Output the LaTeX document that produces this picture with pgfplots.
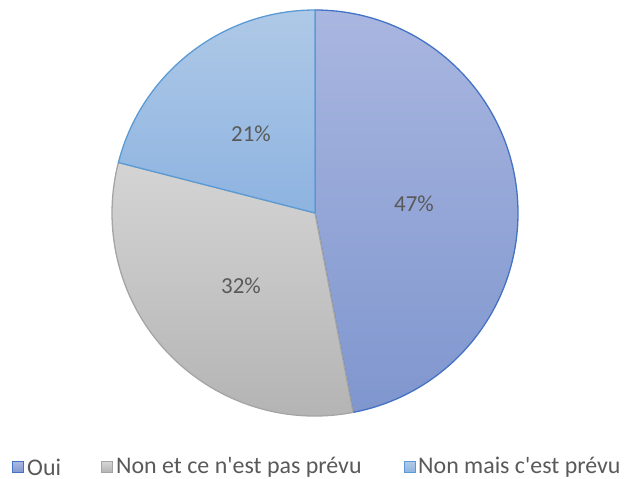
\documentclass[border=0pt]{standalone}
\usepackage{pgfplots}
\pgfplotsset{compat=1.18}
\usepackage{pgfplotstable}
\usepackage{fontspec}
\setmainfont{Carlito}[Ligatures=TeXOff]

\definecolor{ouiA}{HTML}{A9B6E0}
\definecolor{ouiB}{HTML}{7F96CE}
\definecolor{ouiL}{HTML}{4472C4}
\definecolor{nonA}{HTML}{D4D4D4}
\definecolor{nonB}{HTML}{B2B2B2}
\definecolor{nonL}{HTML}{A5A5A5}
\definecolor{maisA}{HTML}{AFC9E7}
\definecolor{maisB}{HTML}{8DB3E0}
\definecolor{maisL}{HTML}{5B9BD5}
\definecolor{txt}{HTML}{595959}

% shares in percent, clockwise from 12 o'clock
\pgfplotstableread{
idx share
0 47
1 32
2 21
}\piedata

\begin{document}
\begin{tikzpicture}
\path (0,0) rectangle (626bp,479bp);
\begin{axis}[
    at={(0,0)}, anchor=south west,
    scale only axis, width=626bp, height=479bp,
    xmin=0, xmax=626, ymin=0, ymax=479,
    hide axis, clip=false,
]
\pgfplotstablegetelem{0}{share}\of\piedata \edef\sa{\pgfplotsretval}
\pgfplotstablegetelem{1}{share}\of\piedata \edef\sb{\pgfplotsretval}
\pgfplotstablegetelem{2}{share}\of\piedata \edef\sc{\pgfplotsretval}
\pgfmathsetmacro{\aa}{90-3.6*\sa}
\pgfmathsetmacro{\ab}{\aa-3.6*\sb}
\pgfmathsetmacro{\ac}{\ab-3.6*\sc}

% Oui
\path[top color=ouiA, bottom color=ouiB] (axis cs:315,266) -- ++(90:203bp)
    arc[start angle=90, end angle=\aa, radius=203bp] -- cycle;
\draw[ouiL, line width=1.3bp, line join=round] (axis cs:315,266) -- ++(90:203bp)
    arc[start angle=90, end angle=\aa, radius=203bp] -- cycle;
% Non et ce n'est pas prevu
\path[top color=nonA, bottom color=nonB] (axis cs:315,266) -- ++(\aa:203bp)
    arc[start angle=\aa, end angle=\ab, radius=203bp] -- cycle;
\draw[nonL, line width=1.3bp, line join=round] (axis cs:315,266) -- ++(\aa:203bp)
    arc[start angle=\aa, end angle=\ab, radius=203bp] -- cycle;
% Non mais c'est prevu
\path[top color=maisA, bottom color=maisB] (axis cs:315,266) -- ++(\ab:203bp)
    arc[start angle=\ab, end angle=\ac, radius=203bp] -- cycle;
\draw[maisL, line width=1.3bp, line join=round] (axis cs:315,266) -- ++(\ab:203bp)
    arc[start angle=\ab, end angle=\ac, radius=203bp] -- cycle;

% slice labels
\node[txt, font=\fontsize{23}{26}\selectfont] at (axis cs:414,275) {\sa\%};
\node[txt, font=\fontsize{23}{26}\selectfont] at (axis cs:241,193) {\sb\%};
\node[txt, font=\fontsize{23}{26}\selectfont] at (axis cs:251,345) {\sc\%};

% legend
\draw[ouiL, top color=ouiA, bottom color=ouiB, line width=1bp] (axis cs:12,6) rectangle (axis cs:23,17);
\node[txt, anchor=west, inner sep=0pt, font=\fontsize{24}{26}\selectfont] at (axis cs:27,12) {Oui};
\draw[nonL, top color=nonA, bottom color=nonB, line width=1bp] (axis cs:101,6) rectangle (axis cs:112,17);
\node[txt, anchor=west, inner sep=0pt, font=\fontsize{24}{26}\selectfont] at (axis cs:116,12) {Non et ce n'est pas prévu};
\draw[maisL, top color=maisA, bottom color=maisB, line width=1bp] (axis cs:404,6) rectangle (axis cs:415,17);
\node[txt, anchor=west, inner sep=0pt, font=\fontsize{24}{26}\selectfont] at (axis cs:418,12) {Non mais c'est prévu};
\end{axis}
\end{tikzpicture}
\end{document}
